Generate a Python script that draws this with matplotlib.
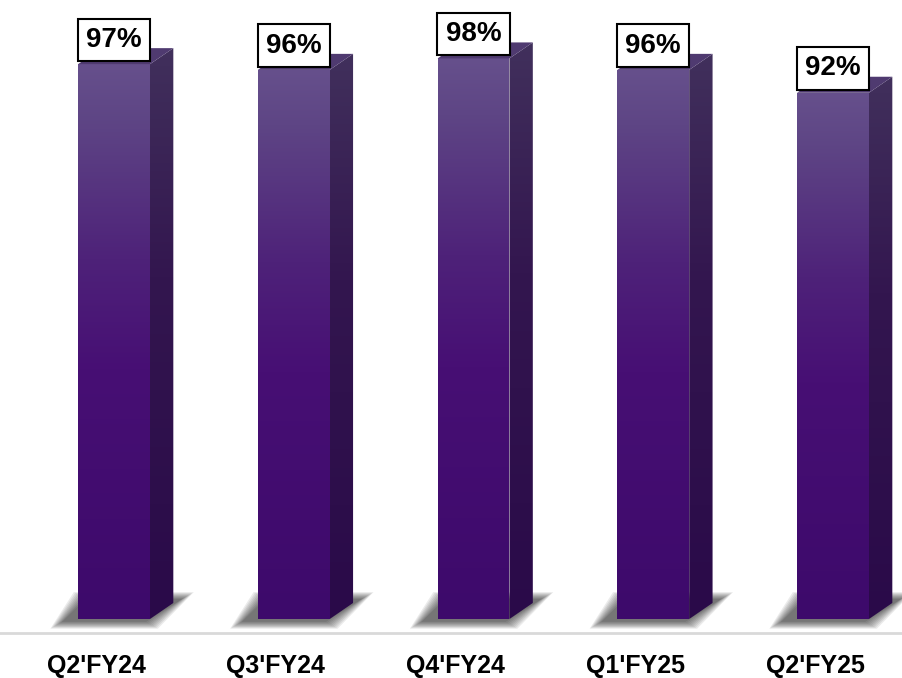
import numpy as np
import matplotlib.pyplot as plt
from matplotlib.patches import Polygon
from matplotlib.colors import LinearSegmentedColormap

# ======================================
# DATA
# ======================================

quarters = ["Q2'FY24", "Q3'FY24", "Q4'FY24", "Q1'FY25", "Q2'FY25"]
values = [97, 96, 98, 96, 92]

# ======================================
# STYLE
# ======================================

plt.rcParams['font.family'] = ['Liberation Sans', 'DejaVu Sans']

bar_w = 0.4      # front face width (data units)
depth_x = 0.13   # 3d depth offset
depth_y = 2.8

front_cmap = LinearSegmentedColormap.from_list(
    "front",
    [(0.0, "#3d0a6b"), (0.45, "#470f74"), (0.65, "#4e2279"),
     (0.9, "#5e4585"), (1.0, "#66508c")]
)
side_cmap = LinearSegmentedColormap.from_list(
    "side",
    [(0.0, "#2a0a49"), (0.6, "#33164f"), (1.0, "#41305c")]
)

grad = np.linspace(0, 1, 256).reshape(-1, 1)

# ======================================
# FIGURE
# ======================================

fig = plt.figure(figsize=(9.03, 6.78), dpi=100)
ax = fig.add_axes([0, 59 / 678, 1, 1 - 59 / 678])

# baseline (set first, moving the spine resets the ticks)
for s in ["top", "left", "right"]:
    ax.spines[s].set_visible(False)
ax.spines["bottom"].set_position(("outward", 10))
ax.spines["bottom"].set_color("#d9d9d9")
ax.spines["bottom"].set_linewidth(2)
ax.patch.set_alpha(0)

x = np.arange(len(values))

for xc, v in zip(x, values):
    xl = xc - bar_w / 2
    xr = xc + bar_w / 2

    # soft floor shadow (layered)
    for k in range(9):
        ex = 0.008 * k
        ey = 0.15 * k
        shadow = Polygon(
            [(xl - 0.09 - ex, -0.5 - ey),
             (xr - 0.02 + ex, -0.5 - ey),
             (xr + depth_x + 0.05 + ex, depth_y + 0.7 + ey),
             (xl + depth_x - 0.09 - ex, depth_y + 0.7 + ey)],
            closed=True, facecolor="#000000", edgecolor="none",
            alpha=0.08, zorder=1, clip_on=False
        )
        ax.add_patch(shadow)

    # front face
    front = Polygon([(xl, 0), (xr, 0), (xr, v), (xl, v)],
                    closed=True, facecolor="none", edgecolor="none")
    ax.add_patch(front)
    im = ax.imshow(grad, extent=(xl, xr, 0, v), origin="lower",
                   cmap=front_cmap, aspect="auto", zorder=3)
    im.set_clip_path(front)

    # side face
    side = Polygon([(xr, 0), (xr + depth_x, depth_y),
                    (xr + depth_x, v + depth_y), (xr, v)],
                   closed=True, facecolor="none", edgecolor="none")
    ax.add_patch(side)
    im2 = ax.imshow(grad, extent=(xr, xr + depth_x, 0, v + depth_y),
                    origin="lower", cmap=side_cmap, aspect="auto", zorder=3)
    im2.set_clip_path(side)

    # top face
    top = Polygon([(xl, v), (xl + depth_x, v + depth_y),
                   (xr + depth_x, v + depth_y), (xr, v)],
                  closed=True, facecolor="#4f3a70", edgecolor="none",
                  zorder=3)
    ax.add_patch(top)

    # value label
    ax.annotate(
        f"{v}%", xy=(xc, v), xytext=(0, 17.5),
        textcoords="offset points", ha="center", va="center",
        fontsize=20, fontweight="bold", color="black", zorder=5,
        bbox=dict(boxstyle="square,pad=0.3", facecolor="white",
                  edgecolor="black", linewidth=1.5)
    )

ax.set_xlim(-114 / 179.75, (903 - 114) / 179.75)
ax.set_ylim(0, 619 / 5.72)

# x labels
ax.set_xticks(x - 0.1)
ax.set_xticklabels(quarters, fontsize=18, fontweight="bold")
ax.tick_params(axis="x", length=0, pad=15)
ax.set_yticks([])

plt.savefig("out.png", dpi=100)
